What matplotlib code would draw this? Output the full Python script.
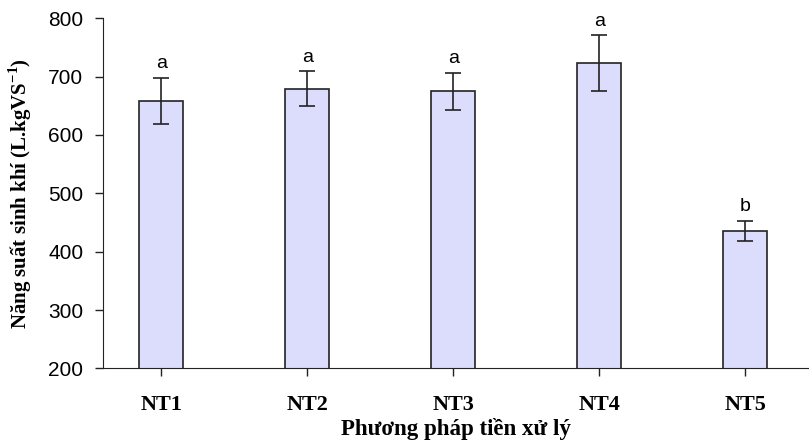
import matplotlib.pyplot as plt
import numpy as np

plt.rcParams['mathtext.fontset'] = 'custom'
plt.rcParams['mathtext.rm'] = 'Liberation Serif:bold'

# du lieu doc tu hinh
nghiem_thuc = ['NT1', 'NT2', 'NT3', 'NT4', 'NT5']
nang_suat = [658, 679, 675, 723, 436]
sai_so = [40, 30, 32, 48, 17]
ky_tu = ['a', 'a', 'a', 'a', 'b']

fig = plt.figure(figsize=(8.09, 4.45), dpi=100)
ax = fig.add_axes([0.127, 0.172, 0.872, 0.787])

x = np.arange(len(nghiem_thuc))
ax.bar(x, nang_suat, width=0.3, color='#dcdcfc', edgecolor='#222222', linewidth=1.2, zorder=2)
ax.errorbar(x, nang_suat, yerr=sai_so, fmt='none', ecolor='#222222', elinewidth=1.2,
            capsize=6, capthick=1.2, zorder=3)

for xi, v, e, k in zip(x, nang_suat, sai_so, ky_tu):
    ax.annotate(k, (xi, v + e), xytext=(0, 4), textcoords='offset points',
                ha='center', va='bottom', fontsize=14, family='Liberation Sans')

ax.set_ylim(200, 800)
ax.set_xlim(-0.4, 4.43)
ax.set_yticks(range(200, 801, 100))
ax.set_xticks(x)
ax.set_xticklabels(nghiem_thuc, family='Liberation Serif', fontweight='bold', fontsize=16)
for lbl in ax.get_yticklabels():
    lbl.set_family('Liberation Sans')
    lbl.set_fontsize(15)

ax.spines['top'].set_visible(False)
ax.spines['right'].set_visible(False)
ax.spines['left'].set_color('#222222')
ax.spines['bottom'].set_color('#222222')
ax.tick_params(axis='both', direction='out', length=6, width=1, color='#222222')
ax.tick_params(axis='x', pad=13)
ax.tick_params(axis='y', pad=8)

ax.set_xlabel('Phương pháp tiền xử lý', family='Liberation Serif', fontweight='bold',
              fontsize=16.5, labelpad=2)
ax.set_ylabel(r'Năng suất sinh khí (L.kgVS$^{\mathregular{-1}}$)', family='Liberation Serif',
              fontweight='bold', fontsize=15)
ax.yaxis.set_label_coords(-0.098, 0.5)

fig.savefig('out.png', dpi=100)
